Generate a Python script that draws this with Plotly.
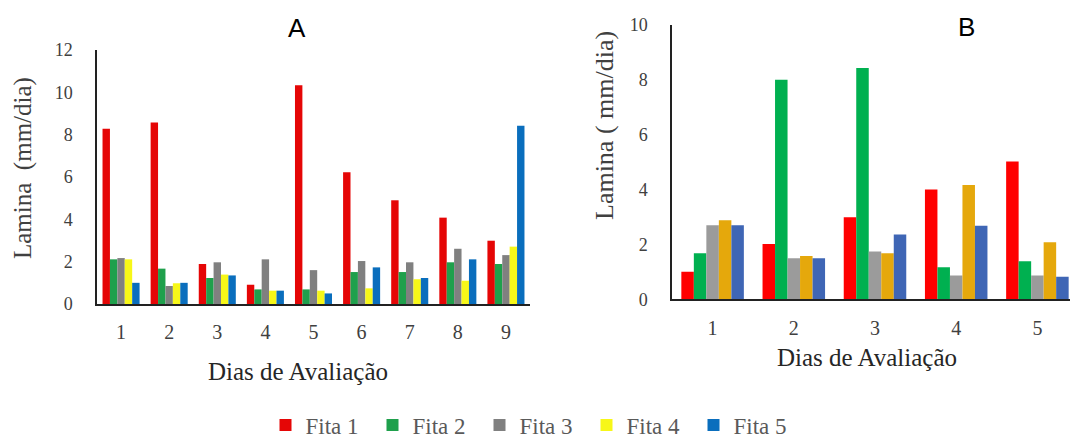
import plotly.graph_objects as go

series = ["Fita 1", "Fita 2", "Fita 3", "Fita 4", "Fita 5"]

days_a = ["1", "2", "3", "4", "5", "6", "7", "8", "9"]
a_fita1 = [8.28, 8.58, 1.89, 0.91, 10.34, 6.22, 4.90, 4.08, 2.99]
a_fita2 = [2.11, 1.67, 1.23, 0.69, 0.69, 1.51, 1.51, 1.97, 1.89]
a_fita3 = [2.17, 0.85, 1.97, 2.11, 1.60, 2.03, 1.97, 2.61, 2.31]
a_fita4 = [2.11, 0.98, 1.39, 0.63, 0.63, 0.74, 1.17, 1.10, 2.71]
a_fita5 = [1.00, 1.00, 1.35, 0.63, 0.50, 1.73, 1.23, 2.11, 8.42]

days_b = ["1", "2", "3", "4", "5"]
b_fita1 = [1.00, 2.02, 2.99, 4.00, 5.02]
b_fita2 = [1.68, 8.00, 8.43, 1.17, 1.39]
b_fita3 = [2.70, 1.50, 1.74, 0.87, 0.87]
b_fita4 = [2.88, 1.58, 1.68, 4.17, 2.08]
b_fita5 = [2.70, 1.50, 2.36, 2.68, 0.82]

colors_a = ["#E50606", "#1FA04C", "#808080", "#F7F718", "#0A6EBD"]
colors_b = ["#FF0000", "#00B050", "#9B9B9B", "#E5A80C", "#3F66B5"]

# page body has an 8px margin: the figure is offset to compensate; extra height
# below the visible window keeps the legend from pushing the margins
OFF = 8
W, H = 1078 - OFF, 439 - OFF + 60
serif = "Liberation Serif, serif"
sans = "Liberation Sans, Arial, sans-serif"

fig = go.Figure()
a_data = [a_fita1, a_fita2, a_fita3, a_fita4, a_fita5]
b_data = [b_fita1, b_fita2, b_fita3, b_fita4, b_fita5]
for name, vals, col in zip(series, a_data, colors_a):
    fig.add_trace(go.Bar(x=days_a, y=vals, name=name, marker_color=col,
                         marker_line_width=0, xaxis="x", yaxis="y",
                         offsetgroup=name))
for name, vals, col in zip(series, b_data, colors_b):
    fig.add_trace(go.Bar(x=days_b, y=vals, name=name, marker_color=col,
                         marker_line_width=0, xaxis="x2", yaxis="y2",
                         offsetgroup=name, showlegend=False))


def px(x):
    return (x - OFF) / W


def py(y):
    return 1 - (y - OFF) / H


xtickfont = dict(family=serif, size=20, color="#404040")
ytickfont = dict(family=serif, size=18, color="#404040")
axis_common = dict(showline=True, linecolor="#222", linewidth=1.5, ticks="",
                   showgrid=False, zeroline=False, automargin=False)

fig.update_layout(
    template="none",
    width=W, height=H,
    margin=dict(l=0, r=0, t=0, b=0, pad=0),
    paper_bgcolor="white", plot_bgcolor="white",
    barmode="group", bargap=0.23, bargroupgap=0,
    showlegend=True,
    legend=dict(orientation="h", x=px(533), xanchor="center",
                y=py(425), yanchor="middle",
                font=dict(family=serif, size=23, color="#595959"),
                entrywidth=62, entrywidthmode="pixels",
                itemwidth=30, tracegroupgap=0, bgcolor="rgba(0,0,0,0)"),
    xaxis=dict(domain=[px(97), px(530)], anchor="y", type="category",
               tickfont=xtickfont, ticklabelstandoff=9, **axis_common),
    yaxis=dict(domain=[py(304), py(50)], anchor="x", range=[0, 12], dtick=2,
               tickfont=ytickfont, ticklabelstandoff=19, **axis_common),
    xaxis2=dict(domain=[px(672), px(1078)], anchor="y2", type="category",
                tickfont=xtickfont, ticklabelstandoff=10, **axis_common),
    yaxis2=dict(domain=[py(299.3), py(25)], anchor="x2", range=[0, 10], dtick=2,
                tickfont=ytickfont, ticklabelstandoff=19, **axis_common),
)

ann = [
    dict(text="A", x=px(297), y=py(28), font=dict(family=sans, size=26, color="#000")),
    dict(text="B", x=px(966), y=py(27), font=dict(family=sans, size=26, color="#000")),
    dict(text="Dias de Avaliação", x=px(298), y=py(371), font=dict(family=serif, size=25, color="#262626")),
    dict(text="Dias de Avaliação", x=px(867), y=py(357), font=dict(family=serif, size=25, color="#262626")),
    dict(text="Lamina  (mm/dia)", x=px(23), y=py(168), textangle=-90,
         font=dict(family=serif, size=25, color="#404040")),
    dict(text="Lamina ( mm/dia)", x=px(604), y=py(126), textangle=-90,
         font=dict(family=serif, size=26, color="#404040")),
]
for a in ann:
    fig.add_annotation(xref="paper", yref="paper", showarrow=False,
                       xanchor="center", yanchor="middle", **a)

fig.write_html("out.html")
